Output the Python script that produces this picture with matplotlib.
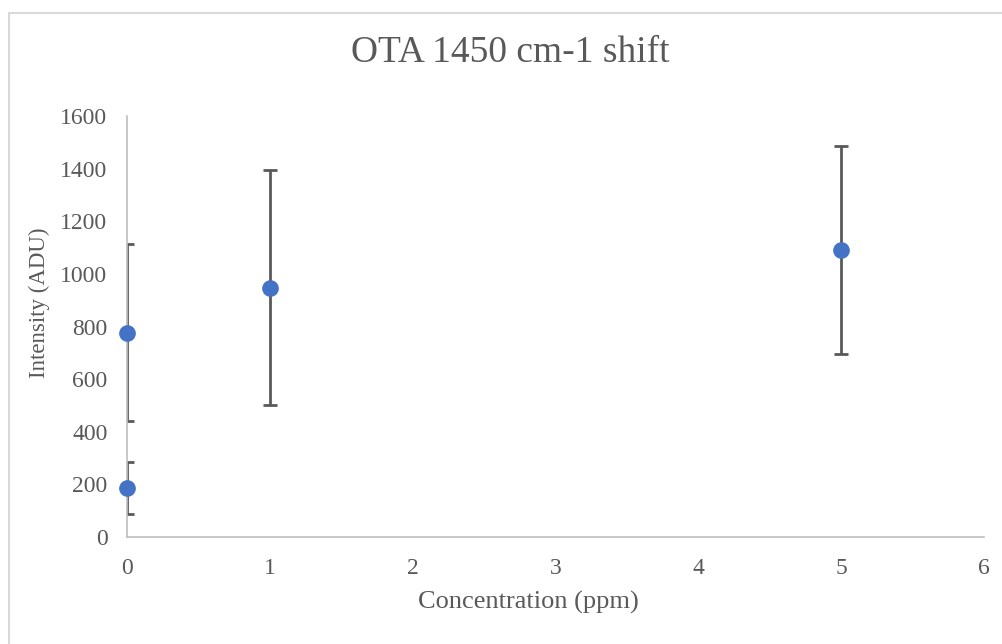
import matplotlib.pyplot as plt
from matplotlib.patches import Rectangle

# Dados
concentracao = [0, 0, 1, 5]
intensidade = [777, 186, 948, 1091]
erro = [336, 100, 446, 395]

x_ticks = [0, 1, 2, 3, 4, 5, 6]
y_ticks = [0, 200, 400, 600, 800, 1000, 1200, 1400, 1600]

cinza = '#595959'
plt.rcParams['font.family'] = ['Liberation Serif', 'DejaVu Serif']

fig = plt.figure(figsize=(10.02, 6.44), dpi=100)
ax = fig.add_axes([0.1267, 0.1661, 0.8553, 0.6538])

# borda da área do gráfico
fig.patches.append(Rectangle((9 / 1002, -0.1), 1.2, 1 - 13 / 644 + 0.1,
                             transform=fig.transFigure, fill=False,
                             edgecolor='#d9d9d9', linewidth=1.5))

ax.errorbar(concentracao, intensidade, yerr=erro, fmt='none',
            ecolor=cinza, elinewidth=2, capsize=5, capthick=2, zorder=2)
ax.plot(concentracao, intensidade, 'o', color='#4472C4', markersize=11,
        clip_on=False, zorder=3)

ax.set_xlim(0, 6)
ax.set_ylim(0, 1600)
ax.set_xticks(x_ticks)
ax.set_yticks(y_ticks)
ax.tick_params(length=0, labelsize=17, labelcolor=cinza)
ax.tick_params(axis='x', pad=15)
ax.tick_params(axis='y', pad=14)

for lado in ['top', 'right']:
    ax.spines[lado].set_visible(False)
for lado in ['left', 'bottom']:
    ax.spines[lado].set_color('#bfbfbf')
    ax.spines[lado].set_linewidth(1.2)

fig.text(0.509, 0.918, 'OTA 1450 cm-1 shift', fontsize=27, color=cinza,
         ha='center', va='center')
ax.set_xlabel('Concentration (ppm)', fontsize=19, color=cinza)
ax.set_ylabel('Intensity (ADU)', fontsize=16.5, color=cinza)
ax.xaxis.set_label_coords(0.468, -0.128)
ax.yaxis.set_label_coords(-0.09, 0.556)

fig.savefig('out.png', dpi=100)
